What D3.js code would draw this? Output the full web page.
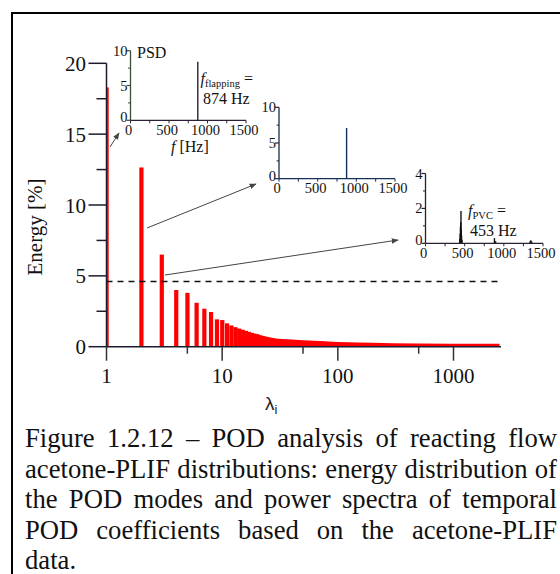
<!DOCTYPE html>
<html><head><meta charset="utf-8">
<script src="https://cdn.jsdelivr.net/npm/d3@7"></script>
<style>body{margin:0;background:#fff} svg{display:block}</style>
</head><body><svg id="c" width="560" height="574"></svg>
<script>
// ---- main chart data ----
const modeIndex  = [1,2,3,4,5,6,7,8,9,10,11,12,13,14,15,16,17,18,19,20];
const modeEnergy = [18.3,12.65,6.5,4.0,3.8,3.1,2.68,2.45,1.93,1.88,1.65,1.5,1.38,1.28,1.2,1.12,1.05,0.98,0.93,0.88];
const tailIndex  = [20,25,30,40,50,70,100,150,200,300,500,1000,2000,2500];
const tailEnergy = [0.88,0.68,0.56,0.5,0.45,0.4,0.34,0.3,0.27,0.25,0.23,0.21,0.2,0.2];
const thresholdEnergy = 4.6;
const yTicks = [0,5,10,15,20];
const yMinor = [2.5,7.5,12.5,17.5];
const xTicks = [1,10,100,1000];
const xMinor = [5,50,500];
// ---- inset data (PSD) ----
const freqTicks = [0,500,1000,1500];
const freqMinor = [250,750,1250];
const psd1Ticks = [0,5,10];
const psd1Freq = [874];
const psd1Val  = [8.4];
const psd2Ticks = [0,5,10];
const psd2Freq = [874];
const psd2Val  = [7.1];
const psd3Ticks = [0,2,4];
const psd3Freq = [437,442,446,450,453,456,460,466,880,895,1335,1345,1355];
const psd3Val  = [0.25,0.55,0.95,1.2,1.85,0.8,0.45,0.2,0.3,0.12,0.12,0.18,0.1];
const captionLines = [
  "Figure 1.2.12 –  POD analysis of reacting flow",
  "acetone-PLIF distributions: energy distribution of",
  "the POD modes and power spectra of temporal",
  "POD coefficients based on the acetone-PLIF",
  "data."
];

const svg = d3.select("#c");
const serif = "'Liberation Serif','Times New Roman',serif";

// frame
svg.append("line").attr("x1",11).attr("x2",560).attr("y1",13).attr("y2",13).attr("stroke","#000").attr("stroke-width",2);
svg.append("line").attr("x1",12).attr("x2",12).attr("y1",12).attr("y2",574).attr("stroke","#000").attr("stroke-width",2);

// scales
const x = d3.scaleLog().domain([1,1000]).range([106.5,453.5]);
const y = d3.scaleLinear().domain([0,20]).range([346.7,63.3]);

svg.append("defs").append("clipPath").attr("id","plotclip")
  .append("rect").attr("x",x(1)).attr("y",0).attr("width",450).attr("height",y(0)+1);

const bars = svg.append("g").attr("clip-path","url(#plotclip)");
bars.selectAll("rect.bar").data(modeIndex).join("rect").attr("class","bar")
  .attr("x",d=>x(d)-2).attr("width",4.2)
  .attr("y",(d,i)=>y(modeEnergy[i])).attr("height",(d,i)=>y(0)-y(modeEnergy[i]))
  .attr("fill","#ff0000");
const area = d3.area().x(d=>x(d[0])).y0(y(0)).y1(d=>y(d[1]));
bars.append("path").datum(tailIndex.map((v,i)=>[v,tailEnergy[i]]))
  .attr("d",area).attr("fill","#ff0000");

// dashed threshold
svg.append("line").attr("x1",x(1)).attr("x2",501).attr("y1",y(thresholdEnergy)).attr("y2",y(thresholdEnergy))
  .attr("stroke","#111").attr("stroke-width",1.5).attr("stroke-dasharray","6,5");

// main axes
const axCol = "#1c1c2c";
svg.append("line").attr("x1",x(1)).attr("x2",x(1)).attr("y1",y(20)).attr("y2",y(0)).attr("stroke",axCol).attr("stroke-width",1.5);
svg.append("line").attr("x1",x(1)).attr("x2",501).attr("y1",y(0)).attr("y2",y(0)).attr("stroke",axCol).attr("stroke-width",1.5);
svg.selectAll("line.yt").data(yTicks).join("line").attr("class","yt")
  .attr("x1",x(1)-18).attr("x2",x(1)).attr("y1",d=>y(d)).attr("y2",d=>y(d)).attr("stroke",axCol).attr("stroke-width",1.5);
svg.selectAll("line.ytm").data(yMinor).join("line").attr("class","ytm")
  .attr("x1",x(1)-10).attr("x2",x(1)).attr("y1",d=>y(d)).attr("y2",d=>y(d)).attr("stroke",axCol).attr("stroke-width",1.5);
svg.selectAll("text.yl").data(yTicks).join("text").attr("class","yl")
  .attr("x",86).attr("y",d=>y(d)+7.5).attr("text-anchor","end")
  .attr("font-family",serif).attr("font-size",21).attr("fill","#111").text(d=>d);
svg.selectAll("line.xt").data(xTicks).join("line").attr("class","xt")
  .attr("x1",d=>x(d)).attr("x2",d=>x(d)).attr("y1",y(0)).attr("y2",y(0)+14).attr("stroke","#333").attr("stroke-width",1.5);
svg.selectAll("line.xtm").data(xMinor).join("line").attr("class","xtm")
  .attr("x1",d=>x(d)).attr("x2",d=>x(d)).attr("y1",y(0)).attr("y2",y(0)+7).attr("stroke","#333").attr("stroke-width",1.5);
svg.selectAll("text.xl").data(xTicks).join("text").attr("class","xl")
  .attr("x",d=>x(d)).attr("y",383).attr("text-anchor","middle")
  .attr("font-family",serif).attr("font-size",21).attr("fill","#111").text(d=>d);

// axis titles
svg.append("text").attr("transform","translate(42,227) rotate(-90)").attr("text-anchor","middle")
  .attr("font-family",serif).attr("font-size",21).attr("fill","#111").text("Energy [%]");
const xl = svg.append("text").attr("x",265).attr("y",410).attr("font-family","'Liberation Sans',Arial,sans-serif").attr("font-size",19).attr("fill","#222");
xl.append("tspan").text("λ");
xl.append("tspan").attr("font-size",13).attr("dy",4).text("i");

// insets
function inset(cfg){
  const g = svg.append("g");
  const fx = d3.scaleLinear().domain([0,1500]).range([cfg.x0,cfg.x1]);
  const fy = d3.scaleLinear().domain([0,cfg.ymax]).range([cfg.y0,cfg.y1]);
  g.selectAll("line.sp").data(cfg.freq).join("line")
    .attr("x1",d=>fx(d)).attr("x2",d=>fx(d)).attr("y1",fy(0)).attr("y2",(d,i)=>fy(cfg.val[i]))
    .attr("stroke",cfg.spikeCol).attr("stroke-width",1.4);
  g.append("line").attr("x1",fx(0)).attr("x2",fx(0)).attr("y1",fy(0)).attr("y2",fy(cfg.ymax)).attr("stroke",cfg.yCol).attr("stroke-width",1.3);
  g.append("line").attr("x1",fx(0)).attr("x2",fx(1500)).attr("y1",fy(0)).attr("y2",fy(0)).attr("stroke",cfg.xCol).attr("stroke-width",1.3);
  g.selectAll("line.yt").data(cfg.ticks).join("line").attr("class","yt")
    .attr("x1",fx(0)-4).attr("x2",fx(0)).attr("y1",d=>fy(d)).attr("y2",d=>fy(d)).attr("stroke",cfg.yCol).attr("stroke-width",1.2);
  g.selectAll("line.ytm").data(d3.pairs(cfg.ticks).map(p=>(p[0]+p[1])/2)).join("line").attr("class","ytm")
    .attr("x1",fx(0)-2.5).attr("x2",fx(0)).attr("y1",d=>fy(d)).attr("y2",d=>fy(d)).attr("stroke",cfg.yCol).attr("stroke-width",1);
  g.selectAll("text.yl").data(cfg.ticks).join("text").attr("class","yl")
    .attr("x",fx(0)-3).attr("y",d=>fy(d)+(d===0?2:5)).attr("text-anchor","end")
    .attr("font-family",serif).attr("font-size",14.5).attr("fill","#111").text(d=>d);
  g.selectAll("line.xt").data(freqTicks.concat(freqMinor)).join("line").attr("class","xt")
    .attr("x1",d=>fx(d)).attr("x2",d=>fx(d)).attr("y1",fy(0)).attr("y2",fy(0)+3).attr("stroke",cfg.xCol).attr("stroke-width",1);
  g.selectAll("text.xl").data(freqTicks).join("text").attr("class","xl")
    .attr("x",d=>fx(d)-2).attr("y",fy(0)+14.5).attr("text-anchor","middle")
    .attr("font-family",serif).attr("font-size",14.5).attr("fill","#111").text(d=>d);
  return {g,fx,fy};
}
inset({x0:130.5,x1:246,y0:120.3,y1:50.7,ymax:10,ticks:psd1Ticks,freq:psd1Freq,val:psd1Val,
  spikeCol:"#2c2038",yCol:"#3e4e3a",xCol:"#2c2038"});
inset({x0:279,x1:395,y0:178.7,y1:107.3,ymax:10,ticks:psd2Ticks,freq:psd2Freq,val:psd2Val,
  spikeCol:"#16305a",yCol:"#1c2a4a",xCol:"#16305a"});
inset({x0:425.5,x1:543,y0:243.3,y1:173.5,ymax:4,ticks:psd3Ticks,freq:psd3Freq,val:psd3Val,
  spikeCol:"#111",yCol:"#222",xCol:"#2c2038"});

// inset annotations
svg.append("text").attr("x",137).attr("y",58).attr("font-family",serif).attr("font-size",16).attr("fill","#111").text("PSD");
function fLabel(xp,yp,sub,rest){
  const t = svg.append("text").attr("x",xp).attr("y",yp).attr("font-family",serif).attr("font-size",16).attr("fill","#111");
  t.append("tspan").attr("font-style","italic").text("f");
  t.append("tspan").attr("font-size",10.5).attr("dy",3).text(sub);
  t.append("tspan").attr("dy",-3).text(rest);
}
fLabel(200.5,84,"flapping"," =");
svg.append("text").attr("x",203).attr("y",104).attr("font-family",serif).attr("font-size",16).attr("fill","#111").text("874 Hz");
const fh = svg.append("text").attr("x",171).attr("y",152).attr("font-family",serif).attr("font-size",16).attr("fill","#111");
fh.append("tspan").attr("font-style","italic").text("f");
fh.append("tspan").text(" [Hz]");
fLabel(468,216,"PVC"," =");
svg.append("text").attr("x",470).attr("y",236).attr("font-family",serif).attr("font-size",16).attr("fill","#111").text("453 Hz");

// arrows
const defs = svg.select("defs");
defs.append("marker").attr("id","ah").attr("viewBox","0 0 10 10").attr("refX",9).attr("refY",5)
  .attr("markerWidth",7).attr("markerHeight",7).attr("orient","auto")
  .append("path").attr("d","M0,1L10,5L0,9z").attr("fill","#444");
const arrows = [[110,147,119,133],[147,228,256,184],[165,275,398,240]];
svg.selectAll("line.arr").data(arrows).join("line").attr("class","arr")
  .attr("x1",d=>d[0]).attr("y1",d=>d[1]).attr("x2",d=>d[2]).attr("y2",d=>d[3])
  .attr("stroke","#444").attr("stroke-width",1).attr("marker-end","url(#ah)");

// caption (justified); font sized so the second line fits with natural spacing
const capLeft = 25, capRight = 557;
const probe = svg.append("text").attr("font-family",serif).attr("font-size",20).text(captionLines[1]);
const capSize = 20 * (capRight-capLeft-2) / probe.node().getComputedTextLength();
probe.remove();
const baselines = [447,477.5,508,538.5,569];
captionLines.forEach((line,li)=>{
  const words = line.split(/\s+/);
  const g = svg.append("g");
  const ts = words.map(w=>g.append("text").attr("y",baselines[li]).attr("font-family",serif).attr("font-size",capSize).attr("fill","#111").text(w));
  const widths = ts.map(t=>t.node().getComputedTextLength());
  const total = d3.sum(widths);
  const last = li===captionLines.length-1;
  const gap = (last||words.length<2) ? capSize*0.25 : (capRight-capLeft-total)/(words.length-1);
  let cx = capLeft;
  ts.forEach((t,i)=>{t.attr("x",cx); cx += widths[i]+gap;});
});
</script></body></html>
